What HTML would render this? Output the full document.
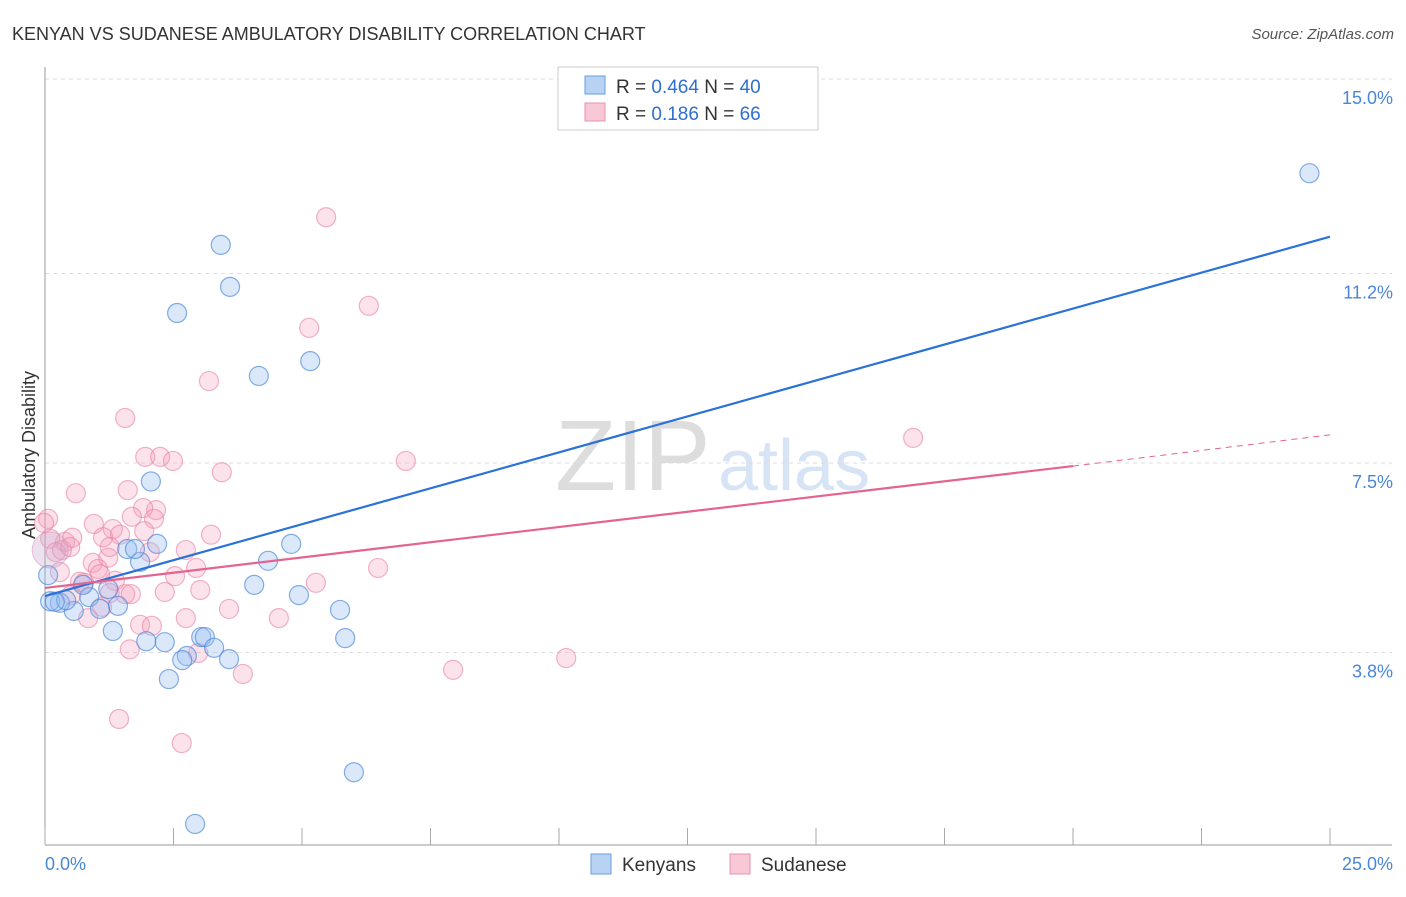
<!DOCTYPE html>
<html><head><meta charset="utf-8"><style>
body{margin:0;background:#fff;font-family:"Liberation Sans",sans-serif}
svg text{font-family:"Liberation Sans",sans-serif}
</style></head><body>
<svg id="c" width="1406" height="892">
<text x="12" y="40" font-size="18" fill="#333">KENYAN VS SUDANESE AMBULATORY DISABILITY CORRELATION CHART</text>
<text x="1394" y="39" font-size="15" fill="#555" font-style="italic" text-anchor="end">Source: ZipAtlas.com</text>
<text x="35" y="455" font-size="18" fill="#333" text-anchor="middle" transform="rotate(-90 35 455)">Ambulatory Disability</text>
<text x="555" y="490" font-size="100" fill="#ddd" font-family="Liberation Serif">ZIP</text>
<text x="718" y="490" font-size="72" fill="#d6e4f5">atlas</text>
<g id="grid"></g><g id="pts"></g><g id="lines"></g>
<g>
<rect x="558" y="67" width="260" height="63" fill="#fff" stroke="#ccc"/>
<rect x="585" y="76" width="20" height="18" fill="#b8d2f3" stroke="#6a9ee0"/>
<rect x="585" y="103" width="20" height="18" fill="#f8c8d6" stroke="#e890ab"/>
<text x="616" y="93" font-size="19" fill="#333">R = <tspan fill="#2f6fd0">0.464</tspan>   N = <tspan fill="#2f6fd0">40</tspan></text>
<text x="616" y="120" font-size="19" fill="#333">R =  <tspan fill="#2f6fd0">0.186</tspan>   N =  <tspan fill="#2f6fd0">66</tspan></text>
</g>
<g>
<rect x="591" y="854" width="20" height="20" fill="#b8d2f3" stroke="#6a9ee0"/>
<text x="622" y="871" font-size="19" fill="#333">Kenyans</text>
<rect x="730" y="854" width="20" height="20" fill="#f8c8d6" stroke="#e890ab"/>
<text x="761" y="871" font-size="19" fill="#333">Sudanese</text>
</g>
</svg>
<script>
const yTicks=[15.0,11.2,7.5,3.8];
const yTickLabels=["15.0%","11.2%","7.5%","3.8%"];
const xLabels=["0.0%","25.0%"];
const blueX=[24.6,3.42,3.6,2.57,4.16,5.16,2.06,1.6,2.18,1.85,4.34,4.79,4.07,4.94,5.74,5.84,1.23,1.42,0.86,0.56,0.29,0.1,1.07,1.32,1.97,2.33,3.04,3.11,3.29,3.58,2.76,2.67,2.41,6.01,2.92,0.06,0.74,0.41,1.75,0.19];
const blueY=[13.16,11.76,10.94,10.43,9.2,9.49,7.14,5.82,5.92,5.57,5.59,5.92,5.12,4.92,4.63,4.08,5.04,4.71,4.88,4.61,4.77,4.8,4.65,4.22,4.02,4.0,4.1,4.1,3.89,3.67,3.73,3.65,3.28,1.46,0.45,5.31,5.12,4.82,5.82,4.79];
const pinkX=[5.47,6.3,5.14,3.19,1.56,1.95,2.24,2.49,3.44,7.02,16.89,0.6,1.61,2.16,1.91,2.12,0.95,1.69,1.32,1.13,1.93,3.23,0.39,0.53,2.04,2.74,0.93,1.23,0.06,0.1,0.21,0.29,1.03,2.94,2.53,6.48,5.27,0.68,1.36,0.51,1.26,1.56,1.67,2.33,1.11,0.84,1.85,2.08,2.74,4.55,3.58,1.65,2.98,3.85,7.94,10.14,1.44,2.66,0.76,0.33,-0.02,1.07,1.46,3.02,1.26,0.49];
const pinkY=[12.3,10.57,10.14,9.1,8.38,7.62,7.62,7.54,7.32,7.54,7.99,6.91,6.97,6.58,6.62,6.41,6.31,6.45,6.21,6.05,6.17,6.1,5.96,6.04,5.76,5.8,5.55,5.65,6.41,6.02,5.76,5.37,5.43,5.45,5.29,5.45,5.16,5.18,5.2,4.92,4.96,4.94,4.94,4.98,4.69,4.47,4.34,4.32,4.47,4.47,4.65,3.86,3.79,3.38,3.46,3.69,2.5,2.03,5.16,5.8,6.33,5.33,6.1,5.02,5.86,5.86];
const blueLine=[0,4.9,25,11.92];
const pinkLine=[0,5.06,20,7.44,25,8.05];
const X0=45,X1=1330,Y0=79,PY=51.2;
const sx=v=>X0+(X1-X0)*v/25, sy=v=>Y0+(15-v)*PY;
const NS="http://www.w3.org/2000/svg";
function mk(t,a,p){const e=document.createElementNS(NS,t);for(const k in a)e.setAttribute(k,a[k]);p.appendChild(e);return e;}
const grid=document.getElementById('grid');
yTicks.forEach((v,i)=>{
 const l=mk('line',{x1:X0,x2:1392,y1:sy(v),y2:sy(v),stroke:'#ddd','stroke-dasharray':'4,4'},grid);
 
 
 const t=mk('text',{x:1393,y:sy(v)+25,'font-size':18,fill:'#4a86d8','text-anchor':'end'},grid);t.textContent=yTickLabels[i];
 
 
});
const ax=mk('line',{x1:X0,x2:X0,y1:67,y2:845,stroke:'#999'},grid);


const bx=mk('line',{x1:X0,x2:1392,y1:845,y2:845,stroke:'#999'},grid);


for(let i=0;i<=10;i++){const tk=mk('line',{x1:sx(i*2.5),x2:sx(i*2.5),y1:828,y2:845,stroke:'#aaa'},grid);
 
 }
[[0,'start',45],[25,'end',1393]].forEach((d,i)=>{const t=mk('text',{x:d[2],y:870,'font-size':18,fill:'#4a86d8','text-anchor':d[1]},grid);t.textContent=xLabels[i];
 
 });
const pts=document.getElementById('pts');
pinkX.forEach((x,i)=>{const c=mk('circle',{cx:sx(x),cy:sy(pinkY[i]),r:9.5,fill:'rgba(244,160,188,0.3)',stroke:'rgba(232,130,165,0.6)','stroke-width':1.2},pts);
 
 });
blueX.forEach((x,i)=>{const c=mk('circle',{cx:sx(x),cy:sy(blueY[i]),r:9.5,fill:'rgba(150,190,240,0.35)',stroke:'rgba(70,130,215,0.65)','stroke-width':1.2},pts);
 
 });
const big=mk('circle',{cx:sx(0.1),cy:sy(5.8),r:18,fill:'rgba(200,170,210,0.35)',stroke:'rgba(220,140,180,0.5)'},pts);


const lines=document.getElementById('lines');
const bl=mk('line',{x1:sx(blueLine[0]),y1:sy(blueLine[1]),x2:sx(blueLine[2]),y2:sy(blueLine[3]),stroke:'#2a72d8','stroke-width':2.2},lines);


const pl=mk('line',{x1:sx(pinkLine[0]),y1:sy(pinkLine[1]),x2:sx(pinkLine[2]),y2:sy(pinkLine[3]),stroke:'#e4648f','stroke-width':2.2},lines);


const pd=mk('line',{x1:sx(pinkLine[2]),y1:sy(pinkLine[3]),x2:sx(pinkLine[4]),y2:sy(pinkLine[5]),stroke:'#e4648f','stroke-width':1,'stroke-dasharray':'6,5'},lines);


</script>
</body></html>
